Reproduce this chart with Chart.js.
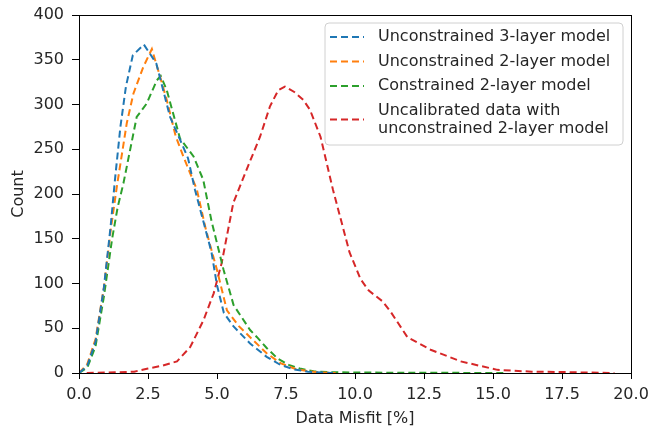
<!DOCTYPE html>
<html lang="en">
<head>
    <meta charset="UTF-8">
    <title>Data Misfit Distribution</title>
    <script src="https://cdn.jsdelivr.net/npm/chart.js"></script>
    <style>
        html, body { margin: 0; padding: 0; background: #fff; }
        #wrap { width: 648px; height: 429px; }
    </style>
</head>
<body>
<div id="wrap"><canvas id="misfitChart" width="648" height="429"></canvas></div>
<script>
    // misfit histogram curves, x = data misfit [%], y = count
    const seriesLabels = [
        ['Unconstrained 3-layer model'],
        ['Unconstrained 2-layer model'],
        ['Constrained 2-layer model'],
        ['Uncalibrated data with', 'unconstrained 2-layer model']
    ];
    const seriesColors = ['#1f77b4', '#ff7f0e', '#2ca02c', '#d62728'];

    const blueX = [0.0, 0.3, 0.6, 0.9, 1.15, 1.3, 1.5, 1.7, 1.95, 2.35, 2.8, 3.3, 3.7, 3.95, 4.2, 4.5, 4.8, 5.0, 5.25, 5.6, 6.2, 6.8, 7.3, 7.8, 8.3, 8.8, 9.2];
    const blueY = [0, 8, 35, 95, 165, 215, 275, 320, 355, 367, 346, 286, 258, 240, 205, 170, 135, 98, 67, 52, 33, 18, 9, 4, 1.5, 0.5, 0];

    const orangeX = [0.0, 0.3, 0.6, 0.9, 1.15, 1.37, 1.73, 1.97, 2.33, 2.64, 2.9, 3.18, 3.5, 3.78, 4.27, 4.6, 5.0, 5.36, 5.8, 6.2, 6.8, 7.3, 7.8, 8.3, 8.8, 9.3];
    const orangeY = [0, 10, 38, 95, 160, 208, 279, 312, 342, 362, 335, 305, 265, 242, 205, 160, 115, 70, 52, 40, 22, 11, 5, 2, 0.5, 0];

    const greenX = [0.0, 0.3, 0.6, 0.9, 1.2, 1.4, 1.61, 2.09, 2.45, 2.82, 2.96, 3.18, 3.66, 4.15, 4.5, 4.8, 5.24, 5.6, 6.2, 6.45, 6.8, 7.2, 7.6, 8.0, 8.5, 9.0, 10.0, 12.0, 15.5];
    const greenY = [0, 6, 30, 85, 150, 185, 212, 286, 301, 327, 332, 316, 262, 242, 216, 170, 115, 76, 48, 40, 28, 16, 9, 5, 2, 1, 0.5, 0.3, 0];

    const redX = [0.28, 1.0, 2.0, 2.5, 3.0, 3.55, 4.03, 4.51, 4.88, 5.17, 5.59, 6.07, 6.56, 6.92, 7.22, 7.46, 7.8, 8.13, 8.37, 8.75, 9.2, 9.5, 9.8, 10.2, 10.5, 11.0, 11.3, 11.9, 12.74, 13.83, 15.16, 16.4, 17.6, 19.4];
    const redY = [0, 0.5, 1.5, 5, 8, 13, 29, 59, 89, 123, 190, 227, 264, 298, 316, 320, 314, 305, 294, 264, 205, 170, 135, 105, 92, 80, 68, 40, 26, 13, 3.5, 1.5, 1, 0];

    const xTicks = [0, 2.5, 5, 7.5, 10, 12.5, 15, 17.5, 20];
    const yTicks = [0, 50, 100, 150, 200, 250, 300, 350, 400];

    const toPoints = (xs, ys) => xs.map((x, i) => ({ x: x, y: ys[i] }));
    const seriesData = [
        toPoints(blueX, blueY),
        toPoints(orangeX, orangeY),
        toPoints(greenX, greenY),
        toPoints(redX, redY)
    ];

    const FONT = 'DejaVu Sans';
    const FSIZE = 16;
    const dash = [7, 4];

    // draws the full frame around the plot and the legend box
    const framePlugin = {
        id: 'frame',
        afterDatasetsDraw(chart) {
            const { ctx, chartArea: a } = chart;
            ctx.save();
            ctx.strokeStyle = '#000';
            ctx.lineWidth = 1;
            ctx.strokeRect(a.left + 0.5, a.top + 0.5, a.right - a.left, a.bottom - a.top);

            // legend
            const bx = 325, by = 23, bw = 298, bh = 122, r = 4;
            ctx.fillStyle = 'rgba(255,255,255,0.8)';
            ctx.strokeStyle = '#d0d0d0';
            ctx.beginPath();
            ctx.moveTo(bx + r, by);
            ctx.arcTo(bx + bw, by, bx + bw, by + bh, r);
            ctx.arcTo(bx + bw, by + bh, bx, by + bh, r);
            ctx.arcTo(bx, by + bh, bx, by, r);
            ctx.arcTo(bx, by, bx + bw, by, r);
            ctx.closePath();
            ctx.fill();
            ctx.stroke();

            ctx.font = FSIZE + 'px "' + FONT + '"';
            ctx.textBaseline = 'middle';
            ctx.fillStyle = '#262626';
            let y = 37;
            chart.data.datasets.forEach((ds, i) => {
                const lines = seriesLabels[i];
                const lineY = y + (lines.length - 1) * 9;
                ctx.strokeStyle = ds.borderColor;
                ctx.lineWidth = 2;
                ctx.setLineDash(dash);
                ctx.beginPath();
                ctx.moveTo(330, lineY);
                ctx.lineTo(364, lineY);
                ctx.stroke();
                ctx.setLineDash([]);
                lines.forEach((t, k) => ctx.fillText(t, 378, y + k * 18));
                y += 24.5 + (lines.length - 1) * 18;
            });
            ctx.restore();
        }
    };

    const ctx = document.getElementById('misfitChart').getContext('2d');
    new Chart(ctx, {
        type: 'line',
        data: {
            datasets: seriesData.map((pts, i) => ({
                label: seriesLabels[i].join(' '),
                data: pts,
                borderColor: seriesColors[i],
                backgroundColor: seriesColors[i],
                borderWidth: 2,
                borderDash: dash,
                pointRadius: 0,
                tension: 0,
                fill: false
            }))
        },
        options: {
            responsive: false,
            animation: false,
            layout: { padding: { left: 0, top: 15, right: 17, bottom: 0 } },
            plugins: {
                legend: { display: false },
                tooltip: { enabled: false }
            },
            scales: {
                x: {
                    type: 'linear',
                    min: 0,
                    max: 20,
                    afterFit(scale) {
                        scale.height = 56;
                        scale.paddingLeft = 0;
                        scale.paddingRight = 0;
                    },
                    afterBuildTicks(scale) { scale.ticks = xTicks.map(v => ({ value: v })); },
                    grid: { display: true, drawOnChartArea: false, tickLength: 6, color: '#000' },
                    border: { display: true, color: '#000' },
                    ticks: {
                        color: '#262626',
                        font: { family: FONT, size: FSIZE },
                        padding: 6,
                        maxRotation: 0,
                        callback: v => v.toFixed(1)
                    },
                    title: {
                        display: true,
                        text: 'Data Misfit [%]',
                        color: '#262626',
                        font: { family: FONT, size: FSIZE },
                        padding: { top: 0, bottom: 1 }
                    }
                },
                y: {
                    min: 0,
                    max: 400,
                    afterFit(scale) {
                        scale.width = 79;
                        scale.paddingTop = 0;
                        scale.paddingBottom = 0;
                    },
                    afterBuildTicks(scale) { scale.ticks = yTicks.map(v => ({ value: v })); },
                    grid: { display: true, drawOnChartArea: false, tickLength: 7, color: '#000' },
                    border: { display: true, color: '#000' },
                    ticks: {
                        color: '#262626',
                        font: { family: FONT, size: FSIZE },
                        padding: 8
                    },
                    title: {
                        display: true,
                        text: 'Count',
                        color: '#262626',
                        font: { family: FONT, size: FSIZE },
                        padding: { top: 9, bottom: 0 }
                    }
                }
            }
        },
        plugins: [framePlugin]
    });
</script>
</body>
</html>
